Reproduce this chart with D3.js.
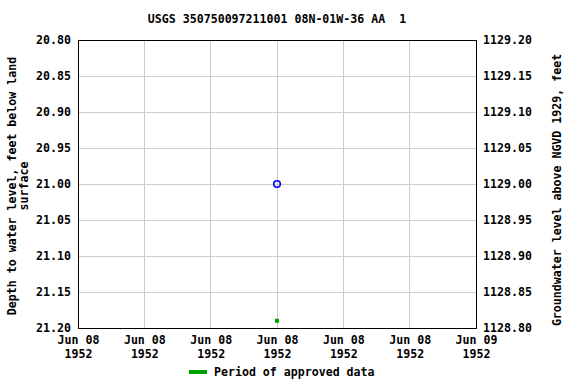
<!DOCTYPE html>
<html><head><meta charset="utf-8">
<script src="https://cdn.jsdelivr.net/npm/d3@7"></script>
<style>body{margin:0;background:#fff;}svg{display:block;}text{font-family:"DejaVu Sans Mono",monospace;font-size:11.6px;fill:#000;white-space:pre;}</style>
</head><body><svg id="c" width="576" height="384"></svg>
<script>
const title = "USGS 350750097211001 08N-01W-36 AA  1";
const depthDomain = [20.80, 21.20];
const depthTicks = [20.80, 20.85, 20.90, 20.95, 21.00, 21.05, 21.10, 21.15, 21.20];
const elevOffset = 1150.00; // elevation = offset - depth
const xStart = "1952-06-08T00:00:00Z", xEnd = "1952-06-09T00:00:00Z";
const tickDates = ["1952-06-08T00:00:00Z","1952-06-08T04:00:00Z","1952-06-08T08:00:00Z","1952-06-08T12:00:00Z","1952-06-08T16:00:00Z","1952-06-08T20:00:00Z","1952-06-09T00:00:00Z"];
const tickLabels = [["Jun 08","1952"],["Jun 08","1952"],["Jun 08","1952"],["Jun 08","1952"],["Jun 08","1952"],["Jun 08","1952"],["Jun 09","1952"]];
const obsDates = ["1952-06-08T12:00:00Z"];
const obsDepth = [21.00];
const approvedDates = ["1952-06-08T12:00:00Z"];
const approvedDepth = [21.19];

const FS = "11.6px";
const svg = d3.select("#c");
const L=78, R=476, T=40, B=328;
const x = d3.scaleUtc().domain([new Date(xStart), new Date(xEnd)]).range([L,R]);
const y = d3.scaleLinear().domain(depthDomain).range([T,B]);
const yR = d3.scaleLinear().domain(depthDomain.map(d=>elevOffset-d)).range([T,B]);

const g = svg.append("g");
g.selectAll(".vg").data(tickDates).enter().append("line")
 .attr("x1",d=>x(new Date(d))).attr("x2",d=>x(new Date(d))).attr("y1",T).attr("y2",B)
 .attr("stroke","#cccccc").attr("stroke-width",1).attr("shape-rendering","crispEdges");
g.selectAll(".hg").data(depthTicks).enter().append("line")
 .attr("x1",L).attr("x2",R).attr("y1",d=>y(d)).attr("y2",d=>y(d))
 .attr("stroke","#cccccc").attr("stroke-width",1).attr("shape-rendering","crispEdges");

const la = svg.append("g").attr("transform",`translate(${L},0)`)
 .call(d3.axisLeft(y).tickValues(depthTicks).tickFormat(d3.format(".2f")).tickSize(0).tickPadding(7));
const ra = svg.append("g").attr("transform",`translate(${R},0)`)
 .call(d3.axisRight(yR).tickValues(depthTicks.map(d=>elevOffset-d)).tickFormat(d3.format(".2f")).tickSize(0).tickPadding(7));
const ba = svg.append("g").attr("transform",`translate(0,${B})`)
 .call(d3.axisBottom(x).tickValues(tickDates.map(d=>new Date(d))).tickFormat("").tickSize(0));
[la,ra,ba].forEach(a=>{a.select(".domain").remove();a.selectAll("line").remove();a.selectAll("text").style("font-family","DejaVu Sans Mono,monospace").style("font-size",FS).style("font-weight","bold");});
ba.selectAll(".tick").each(function(d,i){
  const t=d3.select(this).append("text").attr("text-anchor","middle").attr("fill","#000")
   .style("font-weight","bold").style("font-size",FS);
  t.append("tspan").attr("x",0).attr("y",16).text(tickLabels[i][0]);
  t.append("tspan").attr("x",0).attr("y",30).text(tickLabels[i][1]);
});
svg.append("rect").attr("x",L).attr("y",T).attr("width",R-L).attr("height",B-T)
 .attr("fill","none").attr("stroke","#000").attr("stroke-width",1).attr("shape-rendering","crispEdges");

svg.selectAll(".obs").data(obsDates).enter().append("circle")
 .attr("cx",d=>x(new Date(d))).attr("cy",(d,i)=>y(obsDepth[i])).attr("r",3.3)
 .attr("fill","none").attr("stroke","#0000ff").attr("stroke-width",1.6);
svg.selectAll(".appr").data(approvedDates).enter().append("rect")
 .attr("x",d=>x(new Date(d))-2).attr("y",(d,i)=>y(approvedDepth[i])-2).attr("width",4).attr("height",4)
 .attr("fill","#00a000");

svg.append("text").attr("x",277).attr("y",23).attr("text-anchor","middle").style("font-weight","bold").text(title);
svg.append("text").attr("transform","translate(16,186) rotate(-90)").attr("text-anchor","middle").style("font-weight","bold").text("Depth to water level, feet below land");
svg.append("text").attr("transform","translate(28,186) rotate(-90)").attr("text-anchor","middle").style("font-weight","bold").text("surface");
svg.append("text").attr("transform","translate(561,190) rotate(-90)").attr("text-anchor","middle").style("font-weight","bold").text("Groundwater level above NGVD 1929, feet");
svg.append("line").attr("x1",189).attr("x2",207).attr("y1",372).attr("y2",372).attr("stroke","#00a000").attr("stroke-width",4);
svg.append("text").attr("x",214).attr("y",376).style("font-weight","bold").text("Period of approved data");
</script></body></html>
